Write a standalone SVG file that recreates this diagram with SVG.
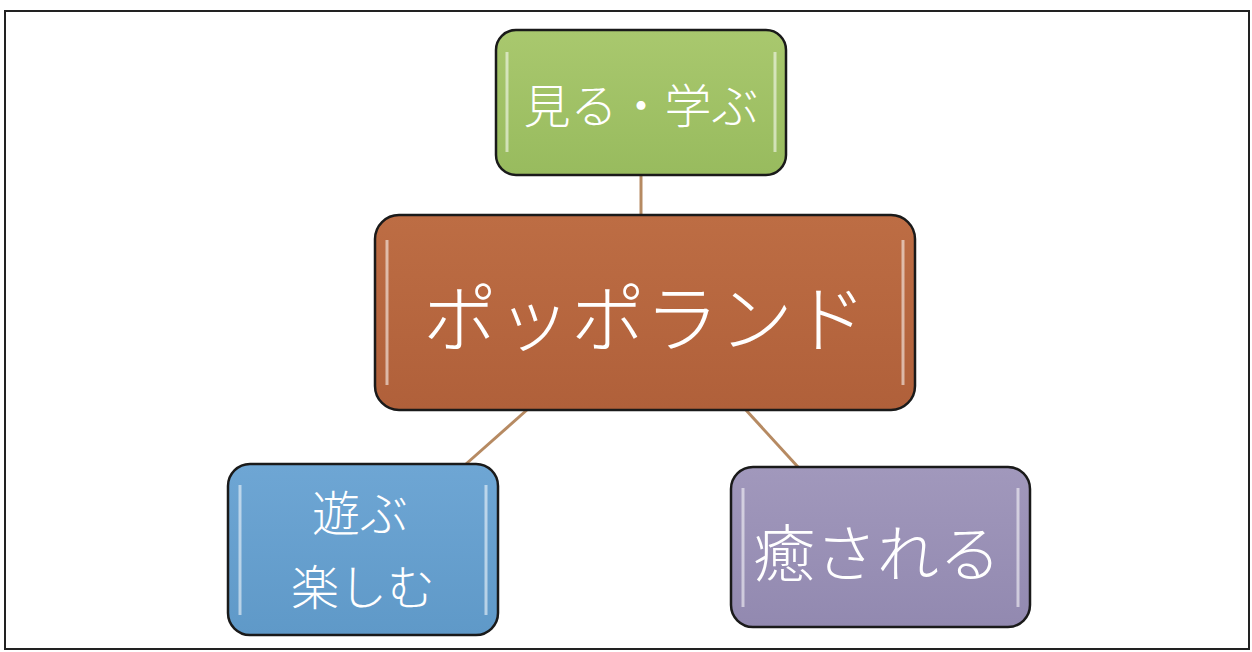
<svg xmlns="http://www.w3.org/2000/svg" width="1252" height="652" viewBox="0 0 1252 652">
<style>
.node{stroke:#1a1a1a;stroke-width:2.5}
.hl{fill:none;stroke:#ffffff;stroke-width:3;stroke-opacity:0.55}
.lbl{font-family:"Noto Sans CJK JP","Noto Sans CJK SC",sans-serif;font-weight:300;fill:#ffffff;text-anchor:middle;dominant-baseline:central}
.conn{stroke:#b68a62;stroke-width:3;fill:none}
</style>
<defs>
<linearGradient id="gGreen" x1="0" y1="0" x2="0" y2="1"><stop offset="0" stop-color="#a9c86e"/><stop offset="1" stop-color="#98bb5e"/></linearGradient>
<linearGradient id="gBrown" x1="0" y1="0" x2="0" y2="1"><stop offset="0" stop-color="#bd6d44"/><stop offset="1" stop-color="#b0603a"/></linearGradient>
<linearGradient id="gBlue" x1="0" y1="0" x2="0" y2="1"><stop offset="0" stop-color="#6ea6d4"/><stop offset="1" stop-color="#5f99c8"/></linearGradient>
<linearGradient id="gPurple" x1="0" y1="0" x2="0" y2="1"><stop offset="0" stop-color="#a198bc"/><stop offset="1" stop-color="#9289b0"/></linearGradient>
</defs>
<rect x="0" y="0" width="1252" height="652" fill="#ffffff"/>
<rect x="5" y="11" width="1244" height="638" fill="none" stroke="#222222" stroke-width="2"/>
<g id="connectors">
<line class="conn" x1="641" y1="175" x2="641" y2="216"/>
<line class="conn" x1="528" y1="409" x2="466" y2="464"/>
<line class="conn" x1="745" y1="409" x2="798" y2="467"/>
</g>
<g id="node-miru">
<rect class="node" x="496" y="30" width="290" height="145" rx="20" fill="url(#gGreen)"/>
<line class="hl" x1="507" y1="52" x2="507" y2="152"/>
<line class="hl" x1="775" y1="52" x2="775" y2="152"/>
<text class="lbl" x="641" y="102" font-size="47">見る・学ぶ</text>
</g>
<g id="node-poppo">
<rect class="node" x="375" y="215" width="540" height="195" rx="24" fill="url(#gBrown)"/>
<line class="hl" x1="387" y1="240" x2="387" y2="385"/>
<line class="hl" x1="903" y1="240" x2="903" y2="385"/>
<text class="lbl" x="645" y="313" font-size="74">ポッポランド</text>
</g>
<g id="node-asobu">
<rect class="node" x="228" y="464" width="270" height="171" rx="22" fill="url(#gBlue)"/>
<line class="hl" x1="240" y1="485" x2="240" y2="615"/>
<line class="hl" x1="486" y1="485" x2="486" y2="615"/>
<text class="lbl" x="360" y="510" font-size="48">遊ぶ</text>
<text class="lbl" x="363" y="584" font-size="48">楽しむ</text>
</g>
<g id="node-iyasa">
<rect class="node" x="731" y="467" width="299" height="160" rx="22" fill="url(#gPurple)"/>
<line class="hl" x1="743" y1="488" x2="743" y2="607"/>
<line class="hl" x1="1018" y1="488" x2="1018" y2="607"/>
<text class="lbl" x="877" y="550" font-size="62">癒される</text>
</g>
</svg>
